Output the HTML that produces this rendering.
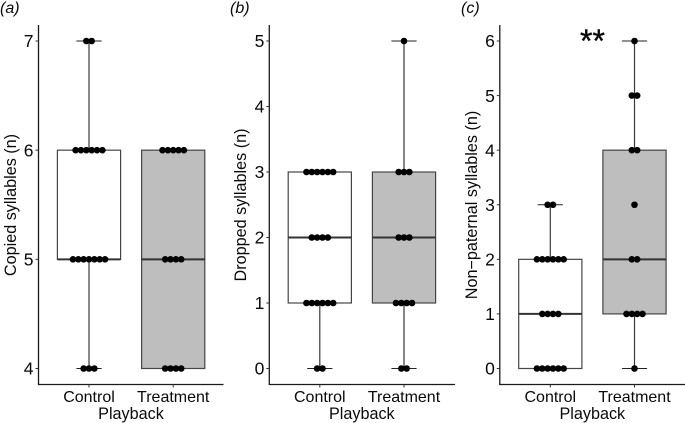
<!DOCTYPE html>
<html>
<head>
<meta charset="utf-8">
<style>
html,body{margin:0;padding:0;background:#fff;}
svg{display:block;}
text{font-family:"Liberation Sans",sans-serif;fill:#0a0a0a;}
</style>
</head>
<body>
<svg id="chart" width="685" height="423" viewBox="0 0 685 423" xmlns="http://www.w3.org/2000/svg"></svg>
<script>
var categories = ['Control', 'Treatment'];
var panelLetters = ['(a)', '(b)', '(c)'];
var yTitles = ['Copied syllables (n)', 'Dropped syllables (n)', 'Non\u2212paternal syllables (n)'];
var yTicksA = [4, 5, 6, 7];
var yTicksB = [0, 1, 2, 3, 4, 5];
var yTicksC = [0, 1, 2, 3, 4, 5, 6];
// box stats: [whisker low, q1, median, q3, whisker high]
var boxesA = [[4, 5, 5, 6, 7], [4, 4, 5, 6, 6]];
var boxesB = [[0, 1, 2, 3, 3], [0, 1, 2, 3, 5]];
var boxesC = [[0, 0, 1, 2, 3], [0, 1, 2, 4, 6]];
// dot stacks: [value, count]
var dotsA = [[[7, 2], [6, 6], [5, 7], [4, 3]], [[6, 5], [5, 4], [4, 4]]];
var dotsB = [[[3, 6], [2, 4], [1, 6], [0, 2]], [[5, 1], [3, 3], [2, 3], [1, 4], [0, 2]]];
var dotsC = [[[3, 2], [2, 6], [1, 4], [0, 6]], [[6, 1], [5, 2], [4, 2], [3, 1], [2, 2], [1, 4], [0, 1]]];
var annotationC = '**';

var svg = document.getElementById('chart');
var NS = 'http://www.w3.org/2000/svg';
function make(tag, attrs, parent, txt) {
  var e = document.createElementNS(NS, tag);
  for (var k in attrs) { e.setAttribute(k, attrs[k]); }
  if (txt !== undefined) { e.textContent = txt; }
  parent.appendChild(e);
  return e;
}
var TOP = 41, BOTTOM = 368.5, AXIS_BOTTOM = 384.5, AXIS_TOP = 25;
var STEP = 84.2, BOX_HALF = 31.6, CAP_HALF = 12.6, DOT_GAP = 5.35, DOT_R = 3.3;

function drawPanel(idx, key, axisX, rightX, ticks, boxes, dots, letterX, titleX) {
  var lo = ticks[0], hi = ticks[ticks.length - 1];
  function yPos(v) { return BOTTOM - (v - lo) / (hi - lo) * (BOTTOM - TOP); }
  function xPos(i) { return axisX + 50.5 + i * STEP; }

  var g = make('g', {}, svg);
  
  

  var letter = make('text', {x: letterX, y: 13, 'font-size': 16, 'font-style': 'italic'}, g, panelLetters[idx]);
  
  

  boxes.forEach(function (b, i) {
    var cx = xPos(i);
    var boxG = make('g', {}, g);
    
    
    var stroke = '#3a3a3a';
    if (b[4] > b[3]) {
      make('line', {x1: cx, x2: cx, y1: yPos(b[3]), y2: yPos(b[4]), stroke: stroke, 'stroke-width': 1.2}, boxG);
      make('line', {x1: cx - CAP_HALF, x2: cx + CAP_HALF, y1: yPos(b[4]), y2: yPos(b[4]), stroke: '#222', 'stroke-width': 1.1}, boxG);
    }
    if (b[0] < b[1]) {
      make('line', {x1: cx, x2: cx, y1: yPos(b[1]), y2: yPos(b[0]), stroke: stroke, 'stroke-width': 1.2}, boxG);
      make('line', {x1: cx - CAP_HALF, x2: cx + CAP_HALF, y1: yPos(b[0]), y2: yPos(b[0]), stroke: '#222', 'stroke-width': 1.1}, boxG);
    }
    make('rect', {x: cx - BOX_HALF, y: yPos(b[3]), width: BOX_HALF * 2, height: yPos(b[1]) - yPos(b[3]),
      fill: i === 0 ? '#ffffff' : '#bebebe', stroke: '#454545', 'stroke-width': 1.2}, boxG);
    make('line', {x1: cx - BOX_HALF, x2: cx + BOX_HALF, y1: yPos(b[2]), y2: yPos(b[2]), stroke: '#333', 'stroke-width': 2}, boxG);
  });

  dots.forEach(function (group, i) {
    var cx = xPos(i);
    group.forEach(function (d) {
      for (var n = 0; n < d[1]; n++) {
        var c = make('circle', {cx: cx + (n - (d[1] - 1) / 2) * DOT_GAP, cy: yPos(d[0]), r: DOT_R, fill: '#000'}, g);
        
        
      }
    });
  });

  var yAxis = make('line', {x1: axisX, x2: axisX, y1: AXIS_TOP, y2: AXIS_BOTTOM + 0.5, stroke: '#1a1a1a', 'stroke-width': 1.3}, g);
  
  
  var xAxis = make('line', {x1: axisX - 0.5, x2: rightX, y1: AXIS_BOTTOM, y2: AXIS_BOTTOM, stroke: '#1a1a1a', 'stroke-width': 1.3}, g);
  
  

  ticks.forEach(function (t) {
    make('line', {x1: axisX - 3, x2: axisX, y1: yPos(t), y2: yPos(t), stroke: '#333', 'stroke-width': 1}, g);
    var lab = make('text', {x: axisX - 5, y: yPos(t) + 6.2, 'font-size': 17.5, 'text-anchor': 'end'}, g, String(t));
    
    
  });

  categories.forEach(function (c, i) {
    make('line', {x1: xPos(i), x2: xPos(i), y1: AXIS_BOTTOM, y2: AXIS_BOTTOM + 3, stroke: '#333', 'stroke-width': 1}, g);
    var lab = make('text', {x: xPos(i), y: 402, 'font-size': 16, 'text-anchor': 'middle'}, g, c);
    
    
  });

  var xt = make('text', {x: axisX + 92.5, y: 419, 'font-size': 16.2, 'text-anchor': 'middle'}, g, 'Playback');
  
  

  var yt = make('text', {x: 0, y: 0, 'font-size': 16.2, 'text-anchor': 'middle',
    transform: 'translate(' + titleX + ',205) rotate(-90)'}, g, yTitles[idx]);
  
  
}

drawPanel(0, 'a', 38.5, 223.5, yTicksA, boxesA, dotsA, 0, 16);
drawPanel(1, 'b', 269.3, 455, yTicksB, boxesB, dotsB, 230, 246);
drawPanel(2, 'c', 499.8, 685, yTicksC, boxesC, dotsC, 461, 477);

var star = make('text', {x: 592.5, y: 52, 'font-size': 32, 'text-anchor': 'middle', stroke: '#0a0a0a', 'stroke-width': 0.4}, svg, annotationC);


</script>
</body>
</html>
